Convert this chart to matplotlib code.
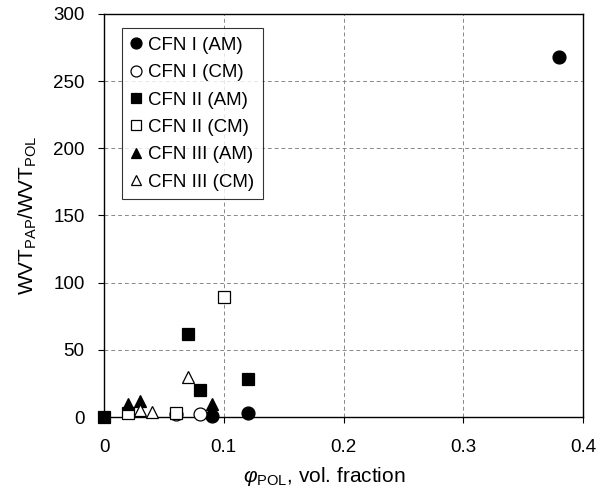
import matplotlib
matplotlib.use('Agg')
import matplotlib.pyplot as plt

plt.rcParams['font.family'] = ['Liberation Sans', 'DejaVu Sans']
plt.rcParams['mathtext.fontset'] = 'custom'
plt.rcParams['mathtext.rm'] = 'Liberation Sans'
plt.rcParams['mathtext.it'] = 'Liberation Sans:italic'

# data (x = vol. fraction, y = WVT ratio)
cfn1_am_x = [0.38, 0.12, 0.09]
cfn1_am_y = [268, 3, 1]
cfn1_cm_x = [0.06, 0.08]
cfn1_cm_y = [2, 2]
cfn2_am_x = [0.0, 0.07, 0.08, 0.12]
cfn2_am_y = [0, 62, 20, 28]
cfn2_cm_x = [0.10, 0.02, 0.06]
cfn2_cm_y = [89, 3, 3]
cfn3_am_x = [0.02, 0.03, 0.09]
cfn3_am_y = [10, 12, 10]
cfn3_cm_x = [0.07, 0.03, 0.04]
cfn3_cm_y = [30, 5, 4]

series = [
    (cfn1_am_x, cfn1_am_y, 'o', True, 'CFN I (AM)'),
    (cfn1_cm_x, cfn1_cm_y, 'o', False, 'CFN I (CM)'),
    (cfn2_am_x, cfn2_am_y, 's', True, 'CFN II (AM)'),
    (cfn2_cm_x, cfn2_cm_y, 's', False, 'CFN II (CM)'),
    (cfn3_am_x, cfn3_am_y, '^', True, 'CFN III (AM)'),
    (cfn3_cm_x, cfn3_cm_y, '^', False, 'CFN III (CM)'),
]

fig = plt.figure(figsize=(6.06, 4.96), dpi=100)
ax = fig.add_axes([104 / 606, 1 - 417 / 496, (583 - 104) / 606, (417 - 14) / 496])

for x, y, m, filled, label in series:
    ax.plot(x, y, linestyle='none', marker=m, markersize=9.3,
            markerfacecolor='black' if filled else 'white',
            markeredgecolor='black', markeredgewidth=0.9,
            label=label, clip_on=False, zorder=3)

ax.set_xlim(0, 0.4)
ax.set_ylim(0, 300)
ax.set_xticks([0, 0.1, 0.2, 0.3, 0.4])
ax.set_xticklabels(['0', '0.1', '0.2', '0.3', '0.4'])
ax.set_yticks(range(0, 301, 50))
ax.tick_params(labelsize=13.5, length=4, width=0.8, direction='out')
ax.tick_params(axis='x', pad=12)
ax.tick_params(axis='y', pad=10)
ax.grid(True, linestyle=(0, (4, 3)), color='#888888', linewidth=0.7)
for s in ax.spines.values():
    s.set_linewidth(1.0)

ax.set_xlabel(r'$\mathit{\varphi}_{\mathrm{POL}}$, vol. fraction', fontsize=15)
ax.xaxis.set_label_coords(0.46, -0.118)
ax.set_ylabel(r'WVT$_{\mathrm{PAP}}$/WVT$_{\mathrm{POL}}$', fontsize=15, labelpad=10)

leg = ax.legend(loc='upper left', bbox_to_anchor=(0.0376, 0.965), fontsize=13.5,
                markerscale=0.85, handlelength=0.6, handletextpad=0.35,
                labelspacing=0.55, borderpad=0.45, frameon=True, fancybox=False,
                borderaxespad=0)
leg.get_frame().set_edgecolor('black')
leg.get_frame().set_linewidth(0.8)

fig.savefig('out.png', dpi=100)
